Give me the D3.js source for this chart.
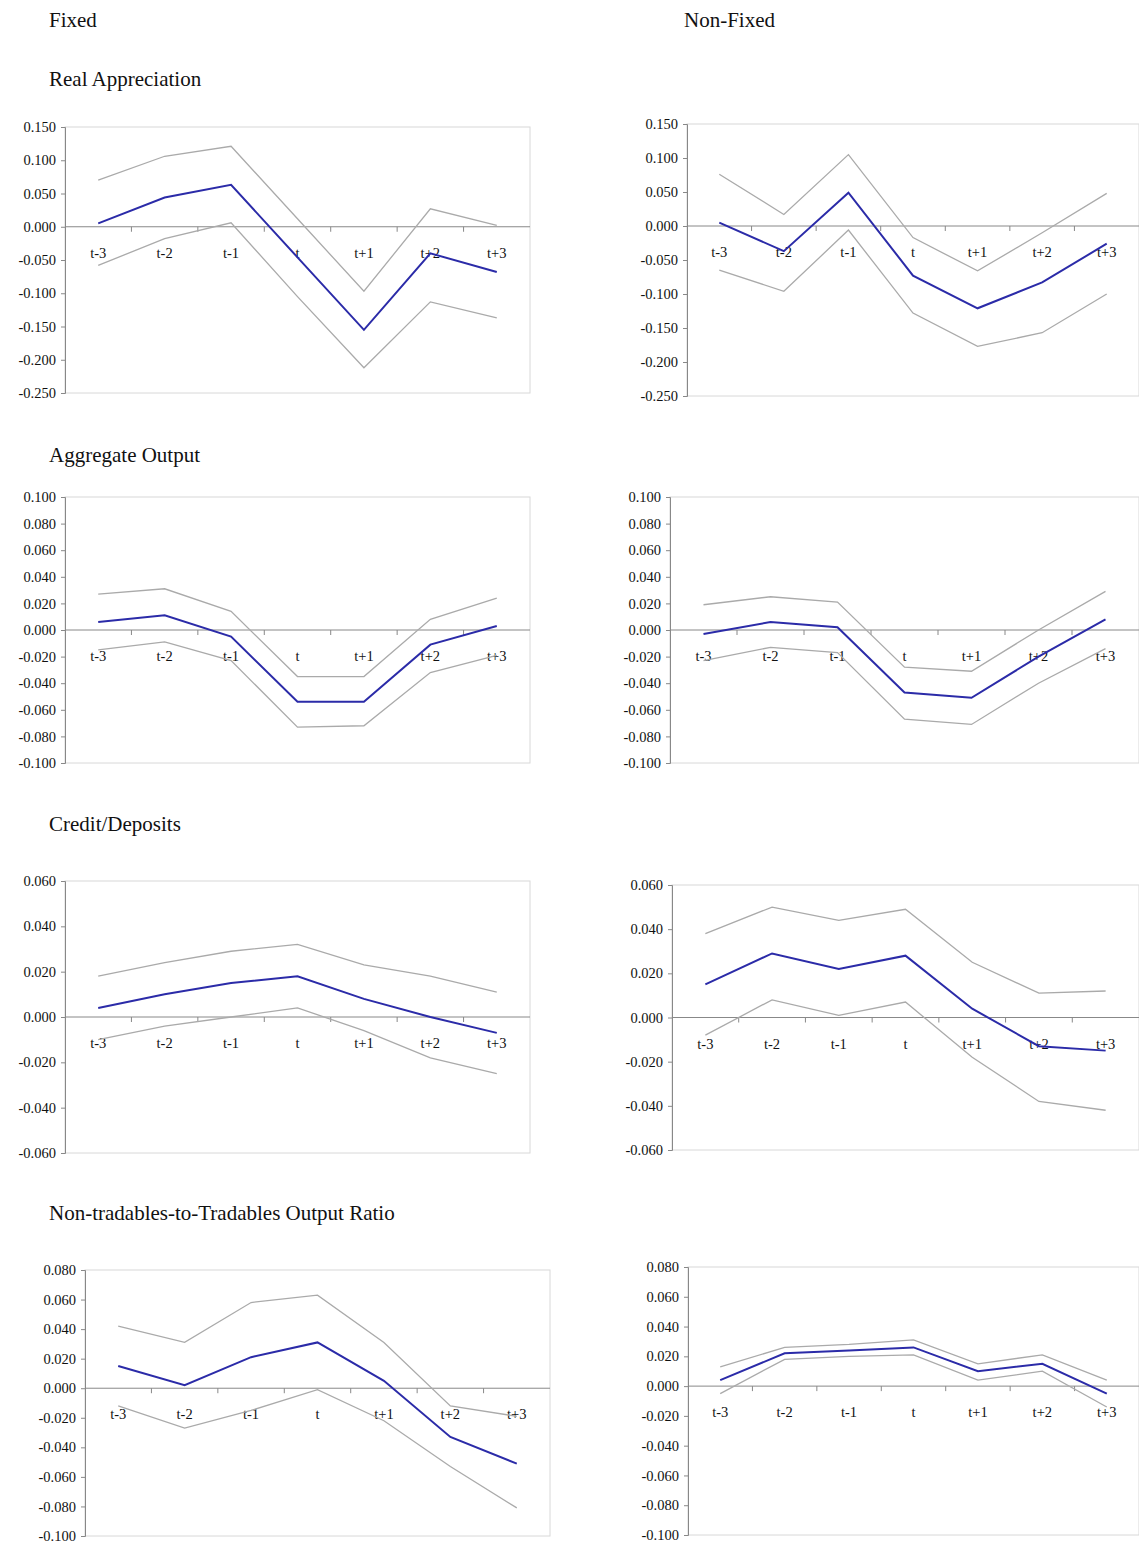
<!DOCTYPE html>
<html>
<head>
<meta charset="utf-8">
<script src="https://cdn.jsdelivr.net/npm/d3@7"></script>
<style>
  body { margin: 0; background: #fff; }
  svg text { font-family: "Liberation Serif", "Times New Roman", serif; }
</style>
</head>
<body>
<svg id="chart" width="1139" height="1544"></svg>
<script>
const periods = ["t-3", "t-2", "t-1", "t", "t+1", "t+2", "t+3"];

// Real Appreciation
const raFixedMean = [0.005, 0.044, 0.063, -0.046, -0.155, -0.040, -0.068];
const raFixedUp   = [0.070, 0.106, 0.121, 0.012, -0.097, 0.027, 0.002];
const raFixedLo   = [-0.058, -0.018, 0.006, -0.105, -0.212, -0.113, -0.137];
const raNonMean   = [0.005, -0.037, 0.049, -0.073, -0.121, -0.083, -0.026];
const raNonUp     = [0.076, 0.017, 0.105, -0.017, -0.066, -0.010, 0.048];
const raNonLo     = [-0.065, -0.096, -0.006, -0.128, -0.177, -0.157, -0.100];
const raTicks     = [0.15, 0.1, 0.05, 0, -0.05, -0.1, -0.15, -0.2, -0.25];

// Aggregate Output
const aoFixedMean = [0.006, 0.011, -0.005, -0.054, -0.054, -0.011, 0.003];
const aoFixedUp   = [0.027, 0.031, 0.014, -0.035, -0.035, 0.008, 0.024];
const aoFixedLo   = [-0.015, -0.009, -0.023, -0.073, -0.072, -0.032, -0.019];
const aoNonMean   = [-0.003, 0.006, 0.002, -0.047, -0.051, -0.020, 0.008];
const aoNonUp     = [0.019, 0.025, 0.021, -0.028, -0.031, 0.000, 0.029];
const aoNonLo     = [-0.023, -0.013, -0.017, -0.067, -0.071, -0.040, -0.014];
const aoTicks     = [0.1, 0.08, 0.06, 0.04, 0.02, 0, -0.02, -0.04, -0.06, -0.08, -0.1];

// Credit/Deposits
const cdFixedMean = [0.004, 0.010, 0.015, 0.018, 0.008, 0.000, -0.007];
const cdFixedUp   = [0.018, 0.024, 0.029, 0.032, 0.023, 0.018, 0.011];
const cdFixedLo   = [-0.010, -0.004, 0.000, 0.004, -0.006, -0.018, -0.025];
const cdNonMean   = [0.015, 0.029, 0.022, 0.028, 0.004, -0.013, -0.015];
const cdNonUp     = [0.038, 0.050, 0.044, 0.049, 0.025, 0.011, 0.012];
const cdNonLo     = [-0.008, 0.008, 0.001, 0.007, -0.018, -0.038, -0.042];
const cdTicks     = [0.06, 0.04, 0.02, 0, -0.02, -0.04, -0.06];

// Non-tradables-to-Tradables Output Ratio
const ntFixedMean = [0.015, 0.002, 0.021, 0.031, 0.005, -0.033, -0.051];
const ntFixedUp   = [0.042, 0.031, 0.058, 0.063, 0.031, -0.012, -0.019];
const ntFixedLo   = [-0.012, -0.027, -0.015, -0.001, -0.022, -0.053, -0.081];
const ntNonMean   = [0.004, 0.022, 0.024, 0.026, 0.010, 0.015, -0.005];
const ntNonUp     = [0.013, 0.026, 0.028, 0.031, 0.015, 0.021, 0.004];
const ntNonLo     = [-0.005, 0.018, 0.020, 0.021, 0.004, 0.010, -0.014];
const ntTicks     = [0.08, 0.06, 0.04, 0.02, 0, -0.02, -0.04, -0.06, -0.08, -0.1];

const svg = d3.select("#chart");

const headings = [
  { text: "Fixed", x: 49, y: 27 },
  { text: "Non-Fixed", x: 684, y: 27 },
  { text: "Real Appreciation", x: 49, y: 86 },
  { text: "Aggregate Output", x: 49, y: 462 },
  { text: "Credit/Deposits", x: 49, y: 831 },
  { text: "Non-tradables-to-Tradables Output Ratio", x: 49, y: 1220 }
];
svg.selectAll("text.head").data(headings).join("text")
  .attr("class", "head")
  .attr("x", d => d.x).attr("y", d => d.y)
  .attr("font-size", 21).attr("fill", "#111")
  .text(d => d.text);

const panels = [
  { box: [65, 530, 127, 393], ticks: raTicks, mean: raFixedMean, up: raFixedUp, lo: raFixedLo },
  { box: [687, 1139, 124, 396], ticks: raTicks, mean: raNonMean, up: raNonUp, lo: raNonLo },
  { box: [65, 530, 497, 763], ticks: aoTicks, mean: aoFixedMean, up: aoFixedUp, lo: aoFixedLo },
  { box: [670, 1139, 497, 763], ticks: aoTicks, mean: aoNonMean, up: aoNonUp, lo: aoNonLo },
  { box: [65, 530, 881, 1153], ticks: cdTicks, mean: cdFixedMean, up: cdFixedUp, lo: cdFixedLo },
  { box: [672, 1139, 885, 1150], ticks: cdTicks, mean: cdNonMean, up: cdNonUp, lo: cdNonLo },
  { box: [85, 550, 1270, 1536], ticks: ntTicks, mean: ntFixedMean, up: ntFixedUp, lo: ntFixedLo },
  { box: [688, 1139, 1267, 1535], ticks: ntTicks, mean: ntNonMean, up: ntNonUp, lo: ntNonLo }
];

panels.forEach(p => {
  const [x0, x1, y0, y1] = p.box;
  const g = svg.append("g");
  const x = d3.scaleBand().domain(periods).range([x0, x1]);
  const y = d3.scaleLinear().domain(d3.extent(p.ticks)).range([y1, y0]);

  // frame
  g.append("rect").attr("x", x0).attr("y", y0)
    .attr("width", x1 - x0).attr("height", y1 - y0)
    .attr("fill", "none").attr("stroke", "#d8d8d8");

  // y axis
  const ya = g.append("g").attr("transform", `translate(${x0},0)`)
    .call(d3.axisLeft(y).tickValues(p.ticks).tickSize(4).tickPadding(5));
  ya.select(".domain").attr("stroke", "#888");
  ya.selectAll(".tick line").attr("stroke", "#888");
  ya.selectAll("text").attr("font-size", 14.5).attr("fill", "#111")
    .text(d => d3.format(".3f")(d).replace("−", "-"));

  // zero line with category ticks at band edges
  const zero = y(0);
  g.append("line").attr("x1", x0).attr("x2", x1).attr("y1", zero).attr("y2", zero)
    .attr("stroke", "#888");
  g.selectAll("line.ct").data(periods.slice(1)).join("line")
    .attr("class", "ct")
    .attr("x1", d => x(d)).attr("x2", d => x(d))
    .attr("y1", zero).attr("y2", zero + 5).attr("stroke", "#888");
  g.selectAll("text.cat").data(periods).join("text")
    .attr("class", "cat")
    .attr("x", d => x(d) + x.bandwidth() / 2).attr("y", zero + 31)
    .attr("text-anchor", "middle").attr("font-size", 14.5).attr("fill", "#111")
    .text(d => d);

  const line = d3.line().x((d, i) => x(periods[i]) + x.bandwidth() / 2).y(d => y(d));
  g.append("path").attr("d", line(p.up)).attr("fill", "none").attr("stroke", "#aaa").attr("stroke-width", 1.3);
  g.append("path").attr("d", line(p.lo)).attr("fill", "none").attr("stroke", "#aaa").attr("stroke-width", 1.3);
  g.append("path").attr("d", line(p.mean)).attr("fill", "none").attr("stroke", "#2b2ba8").attr("stroke-width", 2);
});
</script>
</body>
</html>
